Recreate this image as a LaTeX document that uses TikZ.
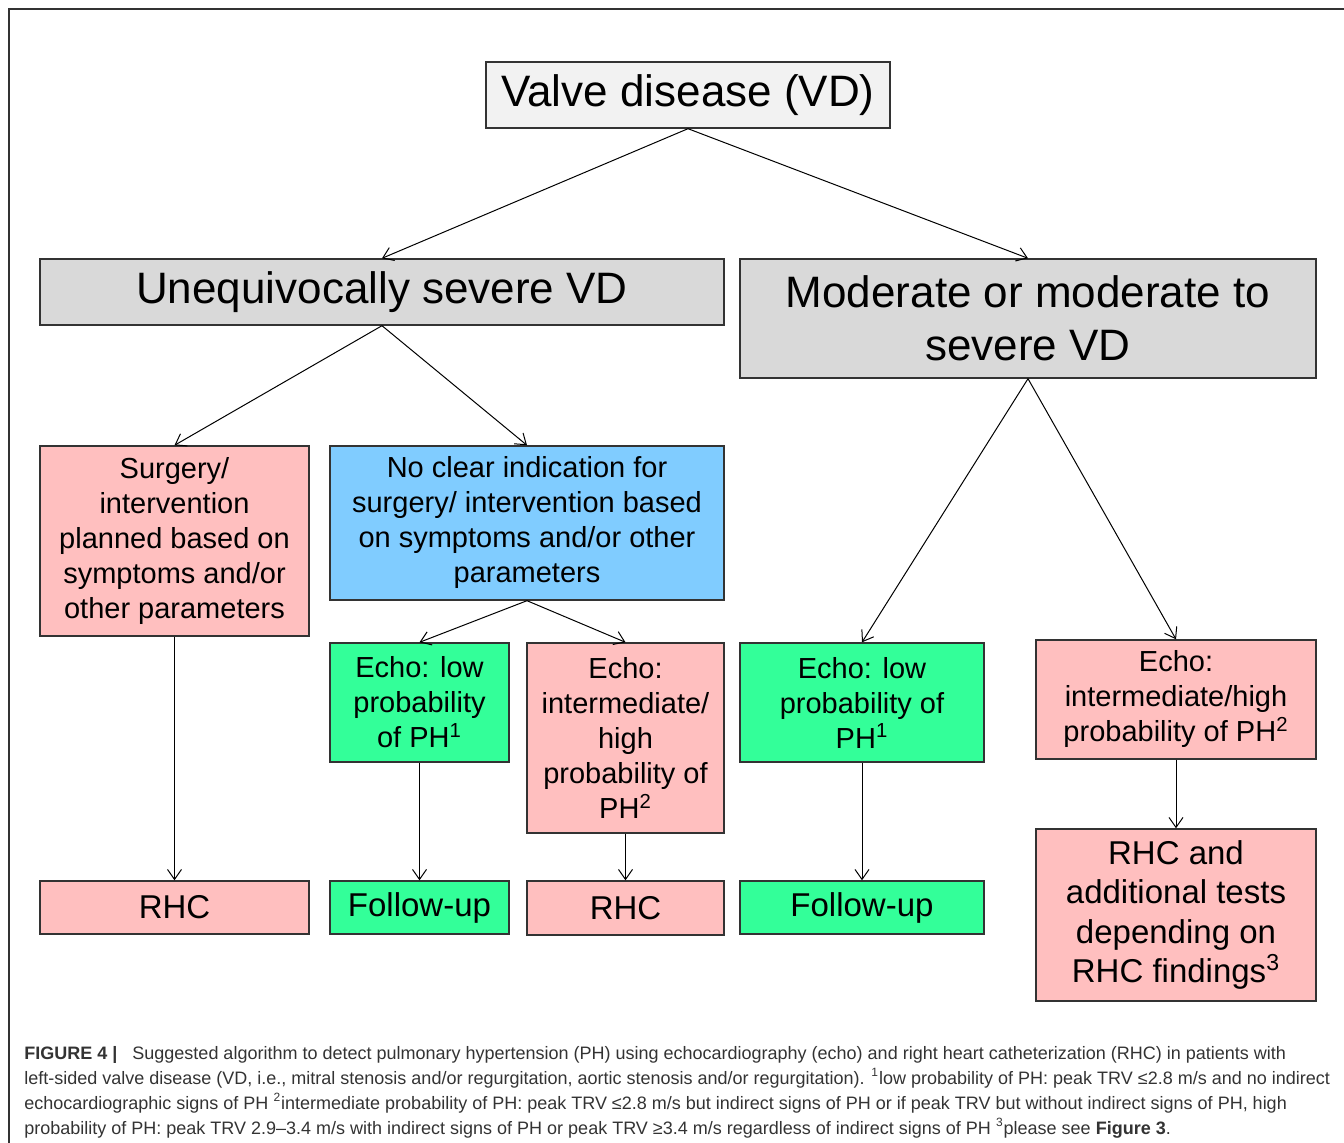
\documentclass[tikz,border=0pt]{standalone}
\usepackage{fontspec}
\setmainfont{Liberation Sans}
\newfontfamily\capfont{Liberation Sans}
\usetikzlibrary{arrows.meta}
\definecolor{frame}{HTML}{333333}
\definecolor{topgray}{HTML}{F2F2F2}
\definecolor{midgray}{HTML}{D9D9D9}
\definecolor{skyblue}{HTML}{80CCFF}
\definecolor{mint}{HTML}{33FF99}
\definecolor{rose}{HTML}{FFBFBF}

\begin{document}
\begin{tikzpicture}[x=0.5pt,y=-0.5pt,
  box/.style={draw=frame,line width=0.7pt,align=center,inner sep=0pt},
  big/.style={box,font=\fontsize{22}{26.4}\selectfont},
  mid/.style={box,font=\fontsize{14.5}{17.5}\selectfont},
  low/.style={box,font=\fontsize{16.5}{19.8}\selectfont},
  sz/.style 2 args={minimum width=#1pt,minimum height=#2pt},
  arr/.style={-{Straight Barb[length=5pt,width=7pt]},line width=0.5pt}]
\useasboundingbox (0,0) rectangle (1344,1143);
\draw[frame,line width=0.75pt] (9,1143) -- (9,9) -- (1344,9);
\node[big,fill=topgray,sz={202}{33}] (valve) at (688,95) {Valve disease (VD)};
\node[big,fill=midgray,sz={342}{33}] (sev) at (382,292) {Unequivocally severe VD};
\node[big,fill=midgray,sz={288}{59.5}] (mod) at (1028,318.5) {Moderate or moderate to\\severe VD};
\node[mid,fill=rose,sz={134.5}{95}] (surg) at (174.5,541) {Surgery/\\intervention\\planned based on\\symptoms and/or\\other parameters};
\node[mid,fill=skyblue,sz={197}{77}] (noclr) at (527,523) {No clear indication for\\surgery/ intervention based\\on symptoms and/or other\\parameters};
\node[mid,fill=mint,sz={89.5}{59.5}] (lowA) at (419.5,702.5) {Echo: low\\probability\\of PH\textsuperscript{1}};
\node[mid,fill=rose,sz={98.5}{95}] (intA) at (625.5,738) {Echo:\\intermediate/\\high\\probability of\\PH\textsuperscript{2}};
\node[mid,fill=mint,sz={122}{59.5}] (lowB) at (862,702.5) {Echo: low\\probability of\\PH\textsuperscript{1}};
\node[mid,fill=rose,sz={140}{59.5}] (intB) at (1176,699.5) {Echo:\\intermediate/high\\probability of PH\textsuperscript{2}};
\node[low,fill=rose,sz={134.5}{26.5}] (rhcA) at (174.5,907.5) {RHC};
\node[low,fill=mint,sz={89.5}{26.5}] (fupA) at (419.5,907.5) {Follow-up};
\node[low,fill=rose,sz={98.5}{27}] (rhcB) at (625.5,908) {RHC};
\node[low,fill=mint,sz={122}{26.5}] (fupB) at (862,907.5) {Follow-up};
\node[low,fill=rose,sz={140}{86}] (rhcC) at (1176,915) {RHC and\\additional tests\\depending on\\RHC findings\textsuperscript{3}};
\draw[arr] (valve.south) -- (sev.north);
\draw[arr] (valve.south) -- (mod.north);
\draw[arr] (sev.south) -- (surg.north);
\draw[arr] (sev.south) -- (noclr.north);
\draw[arr] (mod.south) -- (lowB.north);
\draw[arr] (mod.south) -- (intB.north);
\draw[arr] (noclr.south) -- (lowA.north);
\draw[arr] (noclr.south) -- (intA.north);
\draw[arr] (surg) -- (rhcA);
\draw[arr] (lowA) -- (fupA);
\draw[arr] (intA) -- (rhcB);
\draw[arr] (lowB) -- (fupB);
\draw[arr] (intB) -- (rhcC);
\node[anchor=north west,align=left,inner sep=0pt,text=frame,
  font=\capfont\fontsize{9}{12.5}\selectfont] (cap) at (24,1046)
  {\textbf{FIGURE 4\ \textbar}\ \ \ Suggested algorithm to detect pulmonary hypertension (PH) using echocardiography (echo) and right heart catheterization (RHC) in patients with\\
  left-sided valve disease (VD, i.e., mitral stenosis and/or regurgitation, aortic stenosis and/or regurgitation). \textsuperscript{1}low probability of PH: peak TRV ≤2.8 m/s and no indirect\\
  echocardiographic signs of PH \textsuperscript{2}intermediate probability of PH: peak TRV ≤2.8 m/s but indirect signs of PH or if peak TRV but without indirect signs of PH, high\\
  probability of PH: peak TRV 2.9–3.4 m/s with indirect signs of PH or peak TRV ≥3.4 m/s regardless of indirect signs of PH \textsuperscript{3}please see \textbf{Figure 3}.};
\end{tikzpicture}
\end{document}
